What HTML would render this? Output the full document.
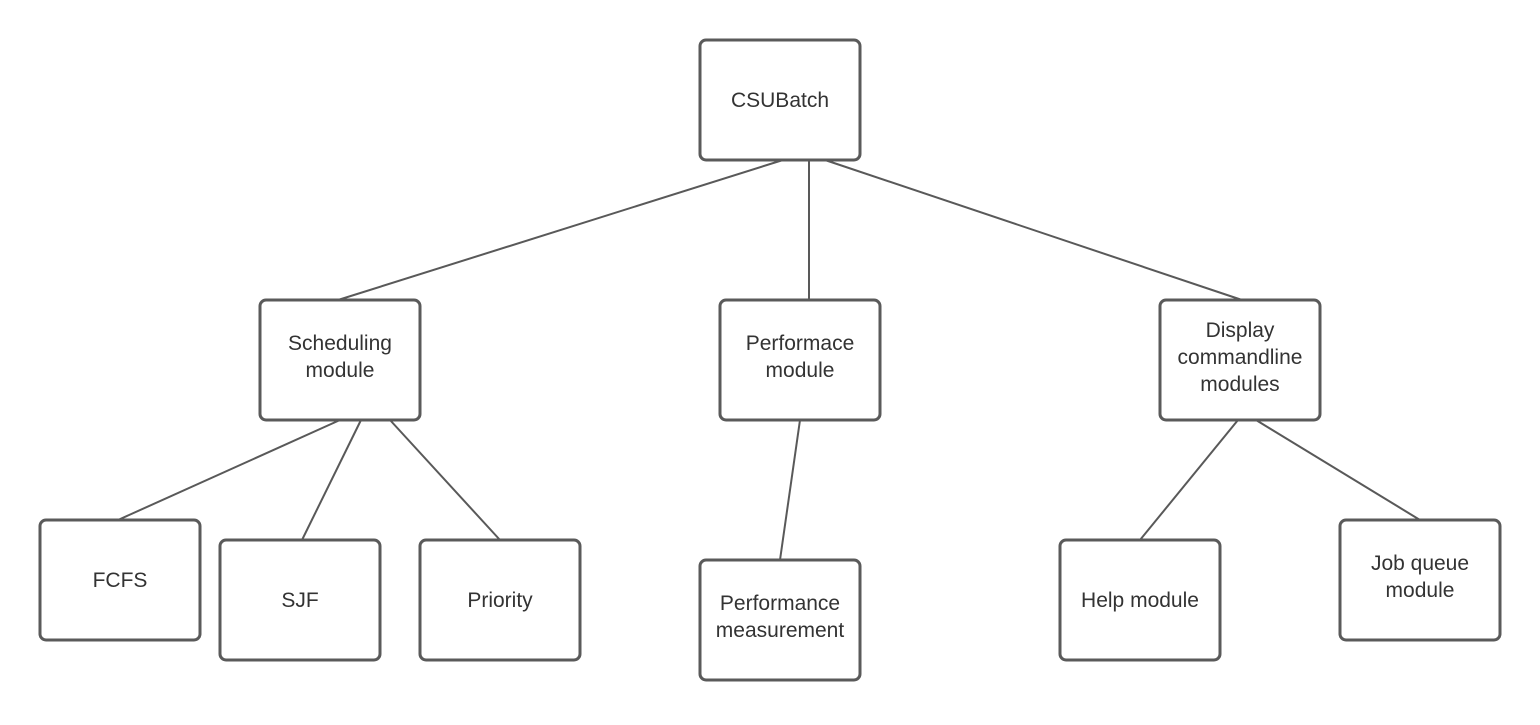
<!DOCTYPE html>
<html><head><style>
body{margin:0;background:#fff;width:1540px;height:720px;overflow:hidden}
</style></head><body>
<svg width="1540" height="720" xmlns="http://www.w3.org/2000/svg" font-family="Liberation Sans, sans-serif" font-size="21" fill="#333">
<g stroke="#595959" stroke-width="2" fill="none">
<line x1="783" y1="160" x2="338" y2="300"/>
<line x1="809" y1="160" x2="809" y2="300"/>
<line x1="825" y1="160" x2="1242" y2="300"/>
<line x1="340" y1="420" x2="118" y2="520"/>
<line x1="361" y1="420" x2="302" y2="540"/>
<line x1="390" y1="420" x2="500" y2="540"/>
<line x1="800" y1="420" x2="780" y2="560"/>
<line x1="1238" y1="420" x2="1140" y2="540"/>
<line x1="1256" y1="420" x2="1420" y2="520"/>
</g>
<g stroke="#5a5a5a" stroke-width="3" fill="#fff">
<rect x="700" y="40" width="160" height="120" rx="6"/>
<rect x="260" y="300" width="160" height="120" rx="6"/>
<rect x="720" y="300" width="160" height="120" rx="6"/>
<rect x="1160" y="300" width="160" height="120" rx="6"/>
<rect x="40" y="520" width="160" height="120" rx="6"/>
<rect x="220" y="540" width="160" height="120" rx="6"/>
<rect x="420" y="540" width="160" height="120" rx="6"/>
<rect x="700" y="560" width="160" height="120" rx="6"/>
<rect x="1060" y="540" width="160" height="120" rx="6"/>
<rect x="1340" y="520" width="160" height="120" rx="6"/>
</g>
<g text-anchor="middle">
<text x="780" y="107">CSUBatch</text>
<text x="340" y="350">Scheduling</text><text x="340" y="377">module</text>
<text x="800" y="350">Performace</text><text x="800" y="377">module</text>
<text x="1240" y="337">Display</text><text x="1240" y="364">commandline</text><text x="1240" y="391">modules</text>
<text x="120" y="587">FCFS</text>
<text x="300" y="607">SJF</text>
<text x="500" y="607">Priority</text>
<text x="780" y="610">Performance</text><text x="780" y="637">measurement</text>
<text x="1140" y="607">Help module</text>
<text x="1420" y="570">Job queue</text><text x="1420" y="597">module</text>
</g>
</svg>
</body></html>
